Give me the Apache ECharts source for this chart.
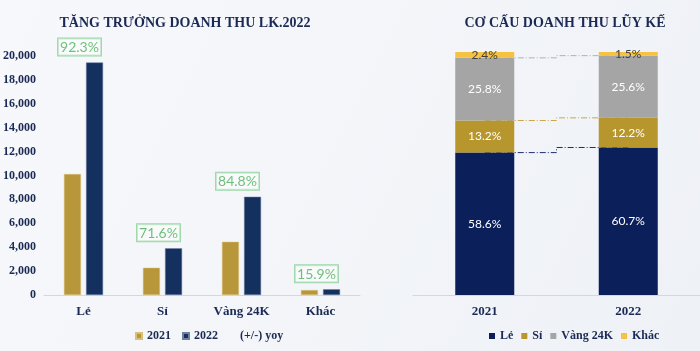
<!DOCTYPE html>
<html>
<head>
    <meta charset="utf-8">
    <style>
        html, body { margin: 0; padding: 0; }
        #main { width: 700px; height: 351px; }
    </style>
    <script src="https://cdn.jsdelivr.net/npm/echarts@6/dist/echarts.min.js"></script>
</head>
<body>
    <div id="main"></div>
    <script type="text/javascript">
        // bieu do trai: doanh thu theo nhom
        var nhom = ['Lẻ', 'Sỉ', 'Vàng 24K', 'Khác'];
        var dt2021 = [10120, 2280, 4450, 415];
        var dt2022 = [19460, 3910, 8220, 480];
        var yoy = [92.3, 71.6, 84.8, 15.9];
        var yTicks = [0, 2000, 4000, 6000, 8000, 10000, 12000, 14000, 16000, 18000, 20000];

        // bieu do phai: co cau (%)
        var nam = ['2021', '2022'];
        var coCauLe = [58.6, 60.7];
        var coCauSi = [13.2, 12.2];
        var coCauVang = [25.8, 25.6];
        var coCauKhac = [2.4, 1.5];

        var serif = 'Liberation Serif';
        var sans = 'Lato';
        var navy = '#13305f';
        var gold = '#b8963a';
        var chu = '#1a2a55';

        function cong(a, b) {
            return a.map((v, i) => Math.round((v + b[i]) * 10) / 10);
        }
        var topLe = coCauLe.slice();
        var topSi = cong(topLe, coCauSi);
        var topVang = cong(topSi, coCauVang);

        function pct(v) { return v.toFixed(1) + '%'; }

        var myChart = echarts.init(document.getElementById('main'));
        var option = {
            backgroundColor: new echarts.graphic.LinearGradient(0, 0, 1, 1, [
                { offset: 0, color: '#f7f8fb' },
                { offset: 0.5, color: '#f3f5f9' },
                { offset: 1, color: '#eef1f6' }
            ]),
            animation: false,
            title: [
                { text: 'TĂNG TRƯỞNG DOANH THU LK.2022', left: 180, top: 11, textAlign: 'center',
                  textStyle: { fontFamily: serif, fontWeight: 'bold', fontSize: 14, color: chu } },
                { text: 'CƠ CẤU DOANH THU LŨY KẾ', left: 560, top: 11, textAlign: 'center',
                  textStyle: { fontFamily: serif, fontWeight: 'bold', fontSize: 14, color: chu } }
            ],
            legend: [
                {
                    left: 130, top: 325, itemWidth: 6, itemHeight: 6, itemGap: 11, icon: 'rect',
                    textStyle: { fontFamily: serif, fontWeight: 'bold', fontSize: 12, color: chu },
                    data: [{ name: '2021' }, { name: '2022' }, { name: '(+/-) yoy', icon: 'none' }]
                },
                {
                    left: 484, top: 325, itemWidth: 6, itemHeight: 6, itemGap: 8, icon: 'rect',
                    textStyle: { fontFamily: serif, fontWeight: 'bold', fontSize: 12, color: chu },
                    data: ['Lẻ', 'Sỉ', 'Vàng 24K', 'Khác']
                }
            ],
            grid: [
                { left: 44, top: 56, width: 316, bottom: 56 },
                { left: 413, top: 52, width: 294, bottom: 56 }
            ],
            xAxis: [
                {
                    type: 'category', gridIndex: 0, data: nhom,
                    axisLine: { lineStyle: { color: '#d4d8de' } },
                    axisTick: { length: 4, lineStyle: { color: '#d4d8de' } },
                    axisLabel: { margin: 10, fontFamily: serif, fontWeight: 'bold', fontSize: 13, color: chu }
                },
                {
                    type: 'category', gridIndex: 1, data: nam,
                    axisLine: { lineStyle: { color: '#d4d8de' } },
                    axisTick: { show: false },
                    axisLabel: { margin: 10, fontFamily: serif, fontWeight: 'bold', fontSize: 13, color: chu }
                }
            ],
            yAxis: [
                {
                    type: 'value', gridIndex: 0, min: yTicks[0], max: yTicks[yTicks.length - 1], interval: 2000,
                    splitLine: { show: false },
                    axisLine: { show: false },
                    axisLabel: { margin: 8, fontFamily: serif, fontWeight: 'bold', fontSize: 12, color: chu,
                        formatter: v => v.toLocaleString('en-US') }
                },
                {
                    type: 'value', gridIndex: 1, min: 0, max: 100, show: false, splitLine: { show: false }
                }
            ],
            series: [
                { name: '2021', type: 'bar', xAxisIndex: 0, yAxisIndex: 0, data: dt2021,
                  barWidth: 17, barGap: '30%', itemStyle: { color: gold, borderColor: '#d8c07a', borderWidth: 0.5 } },
                { name: '2022', type: 'bar', xAxisIndex: 0, yAxisIndex: 0, data: dt2022,
                  barWidth: 17, barGap: '30%', itemStyle: { color: navy, borderColor: '#6d7fa3', borderWidth: 0.5 } },
                { name: '(+/-) yoy', type: 'scatter', xAxisIndex: 0, yAxisIndex: 0, symbolSize: 0,
                  data: dt2022, itemStyle: { color: 'transparent' },
                  label: { show: true, position: 'top', distance: 7, offset: [-4, 0],
                      formatter: p => pct(yoy[p.dataIndex]),
                      fontFamily: sans, fontSize: 14, color: '#4cb05a',
                      backgroundColor: 'rgba(255,255,255,0.6)', borderColor: '#86d095', borderWidth: 1,
                      padding: [2, 2, 1, 2] } },

                { name: 'nối Lẻ', type: 'line', xAxisIndex: 1, yAxisIndex: 1, data: topLe, step: 'middle',
                  symbol: 'none', z: 1, lineStyle: { color: '#1c2f6e', width: 1, type: [6, 2, 1, 2] } },
                { name: 'nối Sỉ', type: 'line', xAxisIndex: 1, yAxisIndex: 1, data: topSi, step: 'middle',
                  symbol: 'none', z: 1, lineStyle: { color: '#c9a84a', width: 1, type: [6, 2, 1, 2] } },
                { name: 'nối Vàng', type: 'line', xAxisIndex: 1, yAxisIndex: 1, data: topVang, step: 'middle',
                  symbol: 'none', z: 1, lineStyle: { color: '#b0b0b0', width: 1, type: [6, 2, 1, 2] } },

                { name: 'Lẻ', type: 'bar', stack: 'cc', xAxisIndex: 1, yAxisIndex: 1, data: coCauLe, barWidth: 59, z: 3,
                  itemStyle: { color: '#0b1f5b' },
                  label: { show: true, position: 'inside', formatter: p => pct(p.value), fontFamily: sans, fontSize: 12, color: '#fff' } },
                { name: 'Sỉ', type: 'bar', stack: 'cc', xAxisIndex: 1, yAxisIndex: 1, data: coCauSi, barWidth: 59, z: 3,
                  itemStyle: { color: '#b8962e' },
                  label: { show: true, position: 'inside', formatter: p => pct(p.value), fontFamily: sans, fontSize: 12, color: '#fff' } },
                { name: 'Vàng 24K', type: 'bar', stack: 'cc', xAxisIndex: 1, yAxisIndex: 1, data: coCauVang, barWidth: 59, z: 3,
                  itemStyle: { color: '#a5a5a5' },
                  label: { show: true, position: 'inside', formatter: p => pct(p.value), fontFamily: sans, fontSize: 12, color: '#fff' } },
                { name: 'Khác', type: 'bar', stack: 'cc', xAxisIndex: 1, yAxisIndex: 1, data: coCauKhac, barWidth: 59, z: 3,
                  itemStyle: { color: '#f5c242' },
                  label: { show: true, position: 'inside', formatter: p => pct(p.value), fontFamily: sans, fontSize: 12, color: '#404040' } }
            ]
        };
        myChart.setOption(option);
    </script>
</body>
</html>
